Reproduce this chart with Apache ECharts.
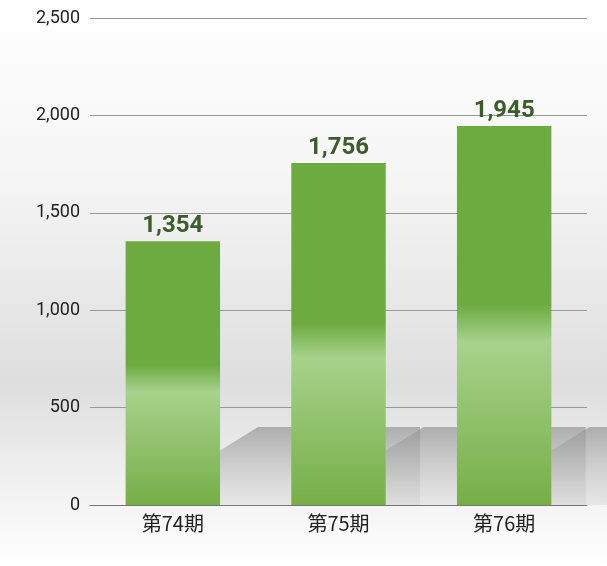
<!DOCTYPE html><html><head><meta charset="utf-8">
<script src="https://cdn.jsdelivr.net/npm/echarts@6/dist/echarts.min.js"></script>
<style>html,body{margin:0;padding:0}#c{width:607px;height:566px}</style></head><body><div id="c"></div>
<script>
const categories=['第74期','第75期','第76期'];
const values=[1354,1756,1945];
const yTicks=[0,500,1000,1500,2000,2500];
const chart=echarts.init(document.getElementById('c'));
const barGrad=new echarts.graphic.LinearGradient(0,0,0,1,[
 {offset:0,color:'#6dab41'},{offset:0.47,color:'#6dab41'},{offset:0.57,color:'#a7d28b'},{offset:1,color:'#76ae47'}]);
chart.setOption({
 graphic:[{type:'rect',z:-10,silent:true,shape:{x:0,y:0,width:607,height:566},
  style:{fill:new echarts.graphic.LinearGradient(0,0,0,1,[{offset:0,color:'#ffffff'},{offset:0.3,color:'#f6f6f6'},{offset:0.68,color:'#dedede'},{offset:0.85,color:'#f0f0f0'},{offset:1,color:'#ffffff'}])}}],
 grid:{left:90,right:20,top:18,bottom:61},
 xAxis:{type:'category',data:categories,axisTick:{show:false},axisLine:{lineStyle:{color:'#777'}},
  axisLabel:{fontSize:20,color:'#222',margin:8,fontFamily:'Noto Sans CJK JP'}},
 yAxis:{type:'value',min:0,max:2500,interval:500,axisLabel:{fontSize:18,color:'#222',margin:10,fontFamily:'Roboto',formatter:v=>v.toLocaleString('en-US')},
  splitLine:{lineStyle:{color:'#999'}}},
 series:[
  {type:'custom',z:1,data:values.map((v,i)=>[i,v]),renderItem:(p,api)=>{
    const i=api.value(0);const c=api.coord([i,0]);const bw=api.size([1,0])[0]*0.57;
    const xr=c[0]+bw/2;const yb=c[1];const yt=api.coord([i,280])[1];const yt2=api.coord([i,400])[1];
    return {type:'polygon',shape:{points:[[xr,yb],[xr,yt],[xr+38,yt2],[xr+200,yt2],[xr+200,yb]]},
     style:{fill:new echarts.graphic.LinearGradient(0,0,0,1,[{offset:0,color:'rgba(150,150,150,0.7)'},{offset:1,color:'rgba(200,200,200,0.3)'}])}};
  }},
  {type:'bar',z:2,data:values,barWidth:'57%',itemStyle:{color:barGrad},
   label:{show:true,position:'top',distance:3,fontSize:24,fontWeight:'bold',color:'#3d5c2b',fontFamily:'Roboto',
    formatter:p=>p.value.toLocaleString('en-US')}}
 ]
});
</script></body></html>
